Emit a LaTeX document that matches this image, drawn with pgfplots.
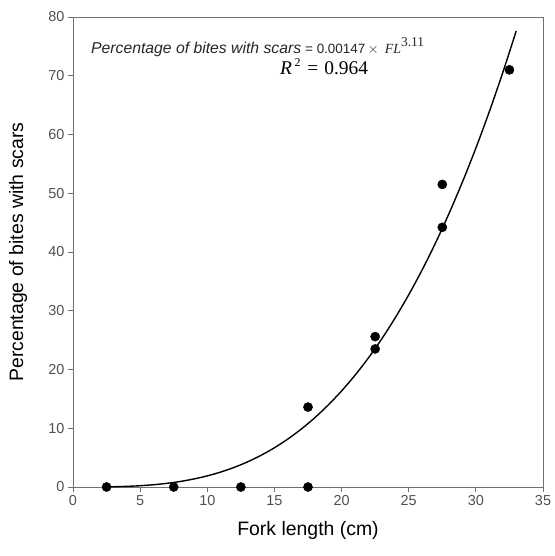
\documentclass[border=0pt]{standalone}
\usepackage{pgfplots}
\pgfplotsset{compat=1.18}
\usepackage{fontspec}
\setmainfont{Liberation Sans}
\newfontfamily\timesfont{Liberation Serif}
\definecolor{framegray}{HTML}{707070}
\definecolor{ticktext}{HTML}{505050}

\begin{document}
\begin{tikzpicture}
\begin{axis}[
  name=ax,
  scale only axis,
  width=470bp, height=470bp,
  xmin=0, xmax=35, ymin=0, ymax=80,
  xtick={0,5,...,35}, ytick={0,10,...,80},
  axis line style={framegray, line width=0.8pt},
  tick style={framegray, line width=0.8pt},
  tick align=outside,
  major tick length=5bp,
  xtick pos=bottom, ytick pos=left,
  tick label style={font=\fontsize{14.5}{17}\selectfont, text=ticktext},
  /pgf/number format/assume math mode=true,
  xlabel={Fork length (cm)},
  ylabel={Percentage of bites with scars},
  every axis x label/.style={at={(axis description cs:0.5,-0.0915)}, anchor=center,
    font=\fontsize{19.5}{22}\selectfont},
  every axis y label/.style={at={(axis description cs:-0.117,0.5)}, rotate=90, anchor=center,
    font=\fontsize{19.5}{22}\selectfont},
  clip=false,
]
% fitted curve y = 0.00147 FL^3.11
\addplot[black, line width=1.4pt, smooth] coordinates {
  (2.5,0.025) (3,0.045) (4,0.110) (5,0.219) (6,0.387) (7,0.625) (8,0.946)
  (9,1.365) (10,1.894) (11,2.547) (12,3.338) (13,4.281) (14,5.391)
  (15,6.681) (16,8.166) (17,9.861) (18,11.78) (19,13.94) (20,16.35)
  (21,19.02) (22,21.98) (23,25.24) (24,28.82) (25,32.72) (26,36.96)
  (27,41.56) (28,46.55) (29,51.92) (30,57.69) (31,63.88) (32,70.51)
  (33,77.6)
};
% observed
\addplot[only marks, mark=*, mark size=4.6bp, black] coordinates {
  (2.5,0) (7.5,0) (12.5,0) (17.5,0) (17.5,13.6)
  (22.5,25.6) (22.5,23.5) (27.5,51.5) (27.5,44.2) (32.5,71.0)
};
\node[anchor=base west, inner sep=0pt, text=black!85] at (axis cs:1.34,73.87)
  {\fontsize{15.8}{17}\selectfont\itshape Percentage of bites with scars\upshape\hspace{4bp}{\fontsize{13.5}{15}\selectfont= 0.00147\,$\times$}\hspace{6bp}{\timesfont\itshape\fontsize{14}{15}\selectfont FL}\raisebox{7bp}{\timesfont\fontsize{13.5}{15}\selectfont 3.11}};
\node[anchor=base west, inner sep=0pt] at (axis cs:15.41,70.13)
  {\timesfont\fontsize{19.5}{21}\selectfont \textit{R}\hspace{2.5bp}\raisebox{8bp}{\fontsize{12}{13}\selectfont 2}\hspace{7bp}=\hspace{6bp}0.964};
\end{axis}
\path[use as bounding box] ([shift={(-73bp,-69bp)}]ax.south west) rectangle ([shift={(10bp,17bp)}]ax.north east);
\end{tikzpicture}
\end{document}
